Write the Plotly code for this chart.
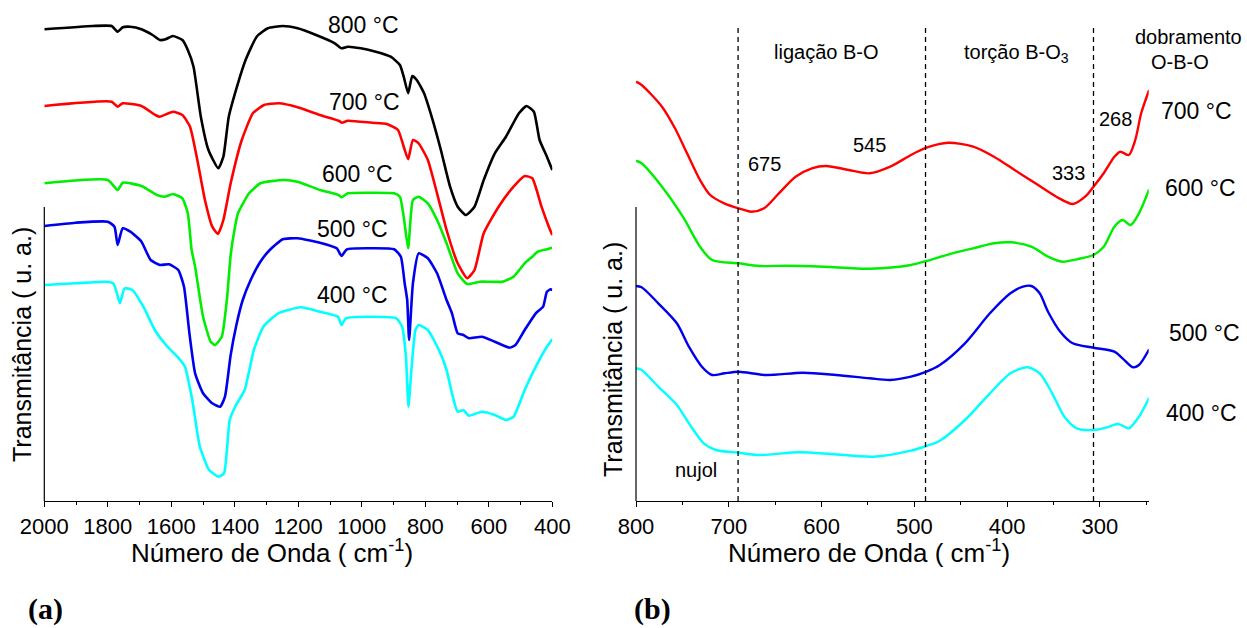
import plotly.graph_objects as go

W, H = 1247, 628

# ---------------- Panel (a): FTIR 2000-400 cm-1 ----------------
wn_800 = [2000, 1847, 1788, 1769, 1753, 1729, 1694, 1659, 1636, 1618, 1595, 1565, 1548, 1530, 1507, 1483,
          1452, 1436, 1419, 1390, 1366, 1331, 1296, 1249, 1202, 1144, 1085, 1064, 1044, 1003, 956, 909,
          880, 868, 854, 841, 827, 804, 780, 751, 722, 698, 672, 645, 616, 581, 546, 505, 481, 458, 440, 417, 400]
t_800 = [471.7, 475, 475, 469.3, 473.7, 474.3, 471.7, 466, 461, 461.7, 465, 461, 451, 434.3, 384.3, 351,
         332.7, 344.3, 384.3, 417.7, 441, 464.3, 472.7, 475, 472.7, 466, 457.7, 452.7, 454.3, 452.7, 449.3, 444.3,
         436, 424.3, 407.7, 425, 421, 407.7, 384.3, 351, 314.3, 294.3, 286, 294.3, 321, 347.7, 364.3, 387.7, 395,
         389.3, 361, 344.3, 331]

wn_700 = [2000, 1788, 1769, 1753, 1694, 1650, 1636, 1595, 1565, 1541, 1518, 1494, 1471, 1453, 1436, 1413,
          1378, 1343, 1308, 1261, 1202, 1132, 1073, 1062, 1044, 968, 921, 886, 868, 854, 839, 821, 792, 763,
          733, 698, 668, 645, 616, 569, 522, 487, 463, 434, 411, 400]
t_700 = [395, 399.3, 394.3, 397.7, 395, 386, 384.3, 389.3, 386, 374.3, 341, 301, 274.3, 267, 281, 317.7,
         361, 387.7, 396, 397.7, 393.7, 386, 380.3, 378.3, 380.3, 378.3, 377, 371, 354.3, 341.7, 361, 357.7, 341,
         307.7, 271, 237.7, 222.7, 231, 267.7, 294.3, 314.3, 325, 322.7, 294.3, 274.3, 266]

wn_600 = [2000, 1800, 1769, 1753, 1694, 1645, 1621, 1595, 1565, 1548, 1536, 1525, 1500, 1476, 1462, 1441,
          1425, 1413, 1400, 1390, 1355, 1319, 1249, 1202, 1132, 1073, 1064, 1044, 968, 898, 880, 868, 854,
          839, 821, 792, 763, 733, 698, 668, 628, 557, 522, 487, 463, 446, 417, 400]
t_600 = [317.7, 321, 311, 318.3, 315, 306, 304.3, 307, 302.7, 287.7, 251, 234.3, 184.3, 159.3, 156, 164.3,
         201, 246, 273, 287.7, 307.7, 317.7, 321, 319.3, 311, 306, 303.7, 307.7, 308.3, 307.7, 304.3, 284.3,
         252.7, 301, 304.3, 297.7, 281, 257.7, 227.7, 217, 219.3, 219.3, 224.3, 237.7, 244.3, 249.3, 251.7, 253.3]

wn_500 = [2000, 1902, 1800, 1779, 1769, 1753, 1729, 1694, 1665, 1636, 1607, 1578, 1560, 1543, 1525, 1500,
          1471, 1446, 1431, 1413, 1395, 1375, 1350, 1320, 1290, 1249, 1202, 1132, 1079, 1064, 1047, 968, 898,
          877, 865, 857, 851, 839, 821, 792, 763, 733, 716, 698, 680, 663, 622, 581, 534, 516, 487, 452, 429,
          417, 405, 400]
t_500 = [275, 278.3, 279.3, 274.3, 256, 272.7, 269.3, 259.3, 241, 236, 236.7, 231, 214.3, 167.7, 127.7, 107.7,
         97.7, 94.3, 104.3, 146, 176, 201, 221, 239, 251, 261.7, 262.7, 258.3, 252.7, 245, 251.7, 252.7, 251.7,
         244.3, 217.7, 201, 161, 217.7, 247.7, 242.7, 227.7, 201, 187.7, 167.7, 166, 162.7, 164.3, 159.3, 153.3,
         156, 171, 187.7, 194.3, 209.3, 211.7, 211]

wn_400 = [2000, 1902, 1807, 1783, 1771, 1762, 1747, 1723, 1688, 1652, 1617, 1581, 1557, 1534, 1510, 1481,
          1451, 1434, 1416, 1399, 1369, 1340, 1310, 1263, 1192, 1132, 1075, 1064, 1050, 968, 891, 873, 861,
          853, 843, 831, 821, 792, 757, 733, 716, 698, 680, 663, 622, 581, 546, 522, 487, 452, 417, 400]
t_400 = [216, 217.7, 219.3, 217.7, 207.7, 197.7, 212.7, 211, 194.3, 171, 156, 144.3, 134.3, 101, 54.3, 31,
         24.3, 27.7, 81, 94.3, 111, 151, 174.3, 187.7, 193.7, 189.3, 184.3, 176, 182.7, 184.3, 182.7, 174.3,
         144.3, 94.3, 134.3, 171, 176, 171, 151, 131, 107.7, 89.3, 91, 85.3, 89.3, 86, 81, 84.3, 111, 134.3,
         154.3, 161.7]

# ---------------- Panel (b): far IR 800-250 cm-1 ----------------
wnb_700 = [800, 794, 772, 758, 745, 731, 720, 705, 689.5, 675.6, 662, 646, 628, 610.5, 595, 570.7, 548.3,
           526, 503.7, 487, 463.5, 436.7, 414.3, 392, 369.6, 347, 329.3, 316, 307, 296, 284.5, 278, 269, 262,
           255.6, 247]
tb_700 = [419.3, 416, 394.3, 372.7, 347.7, 321, 306, 297.7, 292.7, 289.3, 292.7, 307.7, 324.3, 332.7, 335,
          331, 327.7, 334.3, 346, 353.3, 358.3, 354.3, 344.3, 331, 317.7, 304.3, 297, 304.3, 314.3, 327.7, 344.3,
          349.3, 346, 361, 387.7, 411]

wnb_600 = [800, 794, 772, 749.5, 731, 718, 689.5, 666.8, 637.7, 597.5, 548.3, 503.7, 487, 459, 436.7, 414.3,
           396.5, 374, 356, 340.5, 325, 307, 296, 284.5, 275.7, 267, 258, 247]
tb_600 = [340.3, 337.7, 314.3, 284.3, 254.3, 241, 237.7, 235, 235.3, 234.3, 232.3, 236, 240, 247.7, 252.7,
          257.7, 258.7, 254.3, 244.3, 239.3, 241.7, 246, 254.3, 274.3, 281, 276, 287.7, 311.7]

wnb_500 = [800, 794, 776, 756, 743, 729, 718, 704.7, 689.5, 660, 620, 584.5, 548.3, 526, 503.7, 487, 472.6,
           445.5, 418.6, 396.5, 383, 374, 365, 356, 342.8, 329.3, 307, 284.5, 275.7, 264.5, 258, 247]
tb_500 = [215, 213.7, 197.7, 177.7, 154.3, 134.3, 126, 127.7, 129.3, 126, 128.3, 126, 122.7, 121, 124.3,
          129.3, 136, 157.7, 187.7, 207.7, 214.3, 215, 207.7, 189.3, 169.3, 157.7, 153.3, 149.3, 142.7, 133.7,
          136, 151.7]

wnb_400 = [800, 794, 776, 756, 743, 727, 714, 689.5, 666.8, 624.7, 589, 544, 503.7, 487, 472.6, 445.5, 418.6,
           396.5, 378.5, 365, 351.5, 338.3, 325, 307, 293.5, 281, 275, 269, 258, 247]
tb_400 = [132.7, 131, 114.3, 96, 77.7, 57.7, 51, 48.3, 46, 48.7, 47, 44.3, 50.3, 55, 60.3, 81, 107.7, 127.7,
          133.7, 127.7, 107.7, 84.3, 72.7, 71, 73.3, 77, 75, 72.7, 84.3, 103.3]

region_limits = [690, 488, 307]
ticks_a = [2000, 1800, 1600, 1400, 1200, 1000, 800, 600, 400]
ticks_b = [800, 700, 600, 500, 400, 300]

C = {"800": "#000000", "700": "#ff0000", "600": "#00ee00", "500": "#0000ee", "400": "#00ffff"}
FONT = "Liberation Sans, Arial, sans-serif"

fig = go.Figure()
for wn, t, k in [(wn_800, t_800, "800"), (wn_700, t_700, "700"), (wn_600, t_600, "600"),
                 (wn_500, t_500, "500"), (wn_400, t_400, "400")]:
    fig.add_trace(go.Scatter(x=wn, y=t, mode="lines", xaxis="x", yaxis="y",
                             line=dict(color=C[k], width=2.6, shape="spline", smoothing=0.5),
                             hoverinfo="skip", showlegend=False))
for wn, t, k in [(wnb_700, tb_700, "700"), (wnb_600, tb_600, "600"),
                 (wnb_500, tb_500, "500"), (wnb_400, tb_400, "400")]:
    fig.add_trace(go.Scatter(x=wn, y=t, mode="lines", xaxis="x2", yaxis="y2",
                             line=dict(color=C[k], width=2.4, shape="spline", smoothing=0.8),
                             hoverinfo="skip", showlegend=False))

PB = 501  # pixel row of x-axis line
xa_common = dict(ticks="outside", ticklen=5, tickwidth=1.2, tickcolor="black", showline=True,
                 linecolor="black", linewidth=1.2, showgrid=False, zeroline=False, automargin=False,
                 tickfont=dict(family=FONT, size=22, color="black"))
fig.update_layout(
    template="none",
    width=W, height=H, margin=dict(l=0, r=0, t=0, b=H - PB, pad=0, autoexpand=False),
    paper_bgcolor="white", plot_bgcolor="white", showlegend=False,
    xaxis=dict(domain=[44.3 / W, 552.3 / W], range=[2000, 400], tickvals=ticks_a, anchor="y",
               minor=dict(dtick=100, tick0=0, ticks="outside", ticklen=3, tickwidth=1.2, tickcolor="black"),
               **xa_common),
    yaxis=dict(domain=[0, 1], range=[0, PB], visible=False, anchor="x", automargin=False),
    xaxis2=dict(domain=[636 / W, 1148.7 / W], range=[800, 247.5], tickvals=ticks_b, anchor="y2",
                minor=dict(dtick=50, tick0=0, ticks="outside", ticklen=3, tickwidth=1.2, tickcolor="black"),
                **xa_common),
    yaxis2=dict(domain=[0, 1], range=[0, PB], visible=False, anchor="x2", automargin=False),
)

shapes = [
    dict(type="line", xref="paper", yref="y", x0=44.3 / W, x1=44.3 / W, y0=0, y1=294,
         line=dict(color="black", width=1.2)),
    dict(type="line", xref="paper", yref="y2", x0=636 / W, x1=636 / W, y0=0, y1=294,
         line=dict(color="black", width=1.2)),
]
for v in region_limits:
    shapes.append(dict(type="line", xref="x2", yref="y2", x0=v, x1=v, y0=0, y1=473,
                       line=dict(color="black", width=1.3, dash="5px,4px")))
fig.update_layout(shapes=shapes)


def px_ann(x, y, text, size, angle=0, family=FONT):
    fig.add_annotation(xref="paper", yref="paper", x=x / W, y=(PB - y) / PB, text=text, showarrow=False,
                       xanchor="center", yanchor="middle", textangle=angle,
                       font=dict(family=family, size=size, color="black"))


# panel (a) labels
for x, y, s in [(363, 25, "800 °C"), (364, 102, "700 °C"), (357, 174, "600 °C"),
                (352, 229, "500 °C"), (352, 295, "400 °C")]:
    px_ann(x, y, s, 23)
# panel (b) labels
for x, y, s in [(1196, 111, "700 °C"), (1200, 188, "600 °C"), (1204, 333, "500 °C"), (1201, 413, "400 °C")]:
    px_ann(x, y, s, 23)
for x, y, s in [(826, 52, "ligação B-O"), (1016, 54, "torção B-O<sub>3</sub>"), (1188, 37, "dobramento"),
                (1180, 62, "O-B-O"), (764, 164, "675"), (869, 145, "545"), (1068, 173, "333"),
                (1115, 119, "268"), (696, 470, "nujol")]:
    px_ann(x, y, s, 20)

# axis titles
px_ann(272, 551, "Número de Onda ( cm<sup>-1</sup>)", 26)
px_ann(869, 551, "Número de Onda ( cm<sup>-1</sup>)", 26)
px_ann(22, 345, "Transmitância ( u. a.)", 25, angle=-90)
px_ann(613, 360, "Transmitância ( u. a.)", 25, angle=-90)

# panel letters
px_ann(45, 609, "<b>(a)</b>", 30, family="Liberation Serif, Times New Roman, serif")
px_ann(652, 609, "<b>(b)</b>", 30, family="Liberation Serif, Times New Roman, serif")

fig.write_html("out.html", config={"displayModeBar": False},
               post_script="document.body.style.margin='0px';document.body.style.padding='0px';"
                           "document.body.style.overflow='hidden';")
